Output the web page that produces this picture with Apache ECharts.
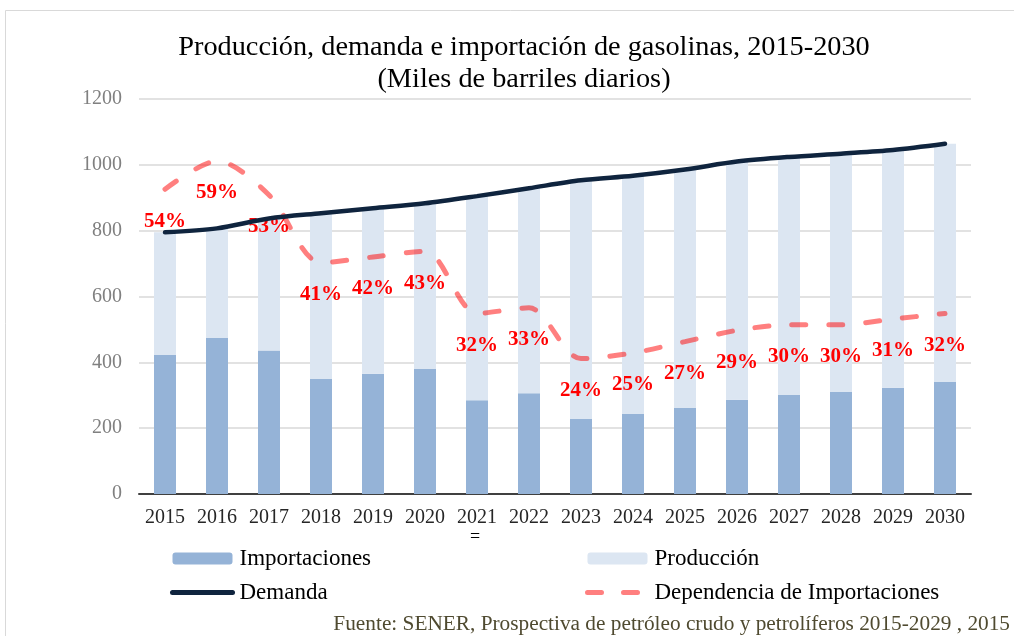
<!DOCTYPE html>
<html>
<head>
<meta charset="utf-8">
<script src="https://cdn.jsdelivr.net/npm/echarts@6/dist/echarts.min.js"></script>
<style>
  html, body { margin: 0; padding: 0; background: #fff; }
  #chart { width: 1014px; height: 636px; }
</style>
</head>
<body>
<div id="chart"></div>
<script>
// datos (miles de barriles diarios)
var years = ['2015','2016','2017','2018','2019','2020','2021','2022','2023','2024','2025','2026','2027','2028','2029','2030'];
var importaciones = [422, 474, 436, 349, 365, 380, 285, 306, 228, 243, 261, 286, 301, 310, 323, 340];
var demanda = [795, 807, 837, 853, 868, 883, 905, 929, 953, 967, 986, 1010, 1024, 1034, 1045, 1064];
var dependencia = [54, 59, 53, 41, 42, 43, 32, 33, 24, 25, 27, 29, 30, 30, 31, 32];

var produccion = demanda.map(function (d, i) { return d - importaciones[i]; });

var serif = 'Liberation Serif';

var chart = echarts.init(document.getElementById('chart'));

var legendText = { fontFamily: serif, fontSize: 23, color: '#000', padding: [0, 0, 0, 2] };

var option = {
  backgroundColor: '#fff',
  animation: false,
  title: {
    text: 'Producción, demanda e importación de gasolinas, 2015-2030\n(Miles de barriles diarios)',
    left: 519,
    top: 27,
    textAlign: 'center',
    textStyle: {
      fontFamily: serif,
      fontWeight: 'normal',
      fontSize: 28.3,
      lineHeight: 32,
      color: '#000'
    }
  },
  legend: [
    {
      data: [
        'Importaciones',
        { name: 'Demanda', itemStyle: { opacity: 0 }, lineStyle: { width: 5 } }
      ],
      orient: 'vertical',
      left: 170,
      top: 547,
      padding: 0,
      itemWidth: 60,
      itemHeight: 12,
      itemGap: 11,
      textStyle: legendText
    },
    {
      data: [
        'Producción',
        { name: 'Dependencia de Importaciones', itemStyle: { opacity: 0 }, lineStyle: { width: 5, type: [14, 22] } }
      ],
      orient: 'vertical',
      left: 585,
      top: 547,
      padding: 0,
      itemWidth: 60,
      itemHeight: 12,
      itemGap: 11,
      textStyle: legendText
    }
  ],
  grid: {
    left: 139,
    right: 43,
    top: 99,
    bottom: 142
  },
  xAxis: {
    type: 'category',
    data: years,
    axisTick: { show: false },
    axisLine: { lineStyle: { color: '#404040', width: 2 } },
    axisLabel: { interval: 0, fontFamily: serif, fontSize: 20, color: '#262626', margin: 14 }
  },
  yAxis: [
    {
      type: 'value',
      min: 0,
      max: 1200,
      interval: 200,
      axisLine: { show: false },
      axisTick: { show: false },
      splitLine: { lineStyle: { color: '#d9d9d9', width: 1.5 } },
      axisLabel: {
        fontFamily: serif, fontSize: 20, color: '#808080', margin: 17,
        formatter: function (v) { return String(v); }
      }
    },
    {
      type: 'value',
      min: 0,
      max: 70,
      show: false,
      splitLine: { show: false }
    }
  ],
  series: [
    {
      name: 'Importaciones',
      type: 'bar',
      stack: 'total',
      barWidth: 22,
      itemStyle: { color: '#95b3d7' },
      data: importaciones
    },
    {
      name: 'Producción',
      type: 'bar',
      stack: 'total',
      barWidth: 22,
      itemStyle: { color: '#dce6f2' },
      data: produccion
    },
    {
      name: 'Demanda',
      type: 'line',
      symbol: 'none',
      smooth: 0.3,
      z: 5,
      itemStyle: { color: '#0f243e' },
      lineStyle: { color: '#0f243e', width: 4.5, cap: 'round' },
      data: demanda
    },
    {
      name: 'Dependencia de Importaciones',
      type: 'line',
      yAxisIndex: 1,
      symbol: 'circle',
      symbolSize: 1,
      showSymbol: true,
      smooth: 0.3,
      z: 4,
      itemStyle: { color: 'rgba(255,128,128,0)', borderWidth: 0 },
      lineStyle: { color: '#ff0000', opacity: 0.5, width: 5, type: [14, 23], cap: 'round' },
      label: {
        show: true,
        position: 'bottom',
        distance: 21,
        formatter: '{c}%',
        fontFamily: serif,
        fontSize: 21,
        fontWeight: 'bold',
        color: '#ff0000',
        opacity: 1
      },
      labelLayout: { hideOverlap: false },
      data: dependencia
    }
  ],
  graphic: [
    {
      type: 'rect',
      silent: true,
      shape: { x: 5.5, y: 10.5, width: 1020, height: 700 },
      style: { fill: 'none', stroke: '#d9d9d9', lineWidth: 1 }
    },
    {
      type: 'text',
      x: 475,
      y: 537,
      style: { text: '=', fontFamily: serif, fontSize: 18, fill: '#000', align: 'center', verticalAlign: 'middle' }
    },
    {
      type: 'text',
      x: 1010,
      y: 624,
      style: {
        text: 'Fuente: SENER, Prospectiva de petróleo crudo y petrolíferos 2015-2029 , 2015',
        fontFamily: serif,
        fontSize: 21.3,
        fill: '#4f4a30',
        align: 'right',
        verticalAlign: 'middle'
      }
    }
  ]
};

chart.setOption(option);
</script>
</body>
</html>
